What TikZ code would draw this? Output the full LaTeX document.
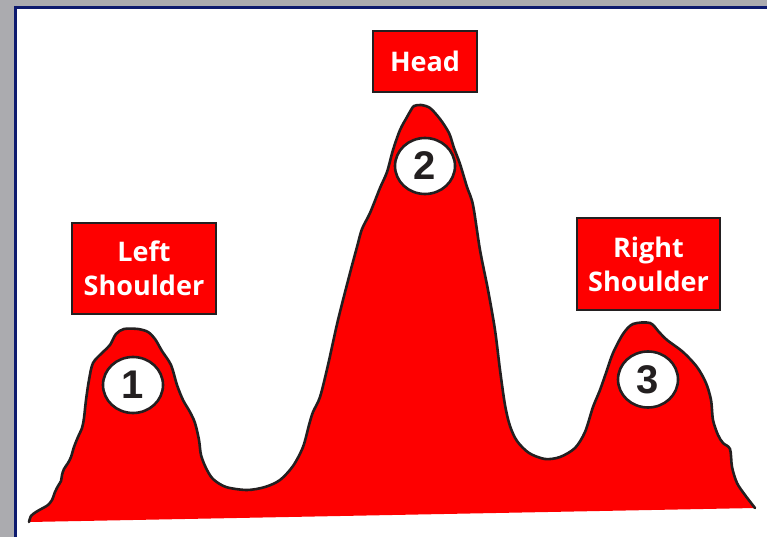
\documentclass[tikz,border=0pt]{standalone}
\usepackage{fontspec}
\usepackage{xcolor}
\usepackage{tikz}
\usetikzlibrary{shapes.geometric,positioning}
\newfontfamily\labelfont{Open Sans}
\newfontfamily\numfont{Liberation Sans}
\definecolor{slidegray}{HTML}{ABABAF}
\definecolor{slidenavy}{HTML}{0D1A6E}
\definecolor{inkline}{HTML}{231F20}
\definecolor{peakred}{HTML}{FE0000}

\begin{document}
\begin{tikzpicture}[
    x=1pt, y=-1pt,
    tag/.style={rectangle, draw=inkline, line width=2.2pt, fill=peakred, text=white, align=center, inner sep=0pt,
        font=\labelfont\bfseries\fontsize{27}{34}\selectfont},
    badge/.style={ellipse, draw=inkline, line width=2.6pt, fill=white, text=inkline, inner sep=0pt,
        minimum width=60pt, minimum height=56pt, font=\numfont\bfseries\fontsize{40}{40}\selectfont},
    ridge/.style={fill=peakred, draw=inkline, line width=2.6pt, line join=round, line cap=round}
]
\useasboundingbox (0,0) rectangle (767,537);

% Slide frame
\fill[slidegray] (0,0) rectangle (767,537);
\fill[white] (17,9) rectangle (767,537);
\draw[slidenavy, line width=3.2pt] (14,7.6) -- (767,7.6);
\draw[slidenavy, line width=3.2pt] (15.6,6) -- (15.6,537);

% Mountain (fill closes the bottom edge, stroke does not)
\draw[ridge] plot[smooth, tension=0.5] coordinates {
    (29,522) (31,516) (36,512) (43,508) (48,505) (52,500) (55,492) (58,486) (61,481) (62,475)
    (64,469) (68,463) (71,457) (74,447) (78,437) (82,428) (84,418) (86,400) (89,380) (93,363)
    (103,352) (110,345) (116,334) (124,329) (138,329) (148,332) (155,339) (162,351) (171,365)
    (177,385) (183,400) (190,412) (195,423) (199,440) (201,455) (206,468) (213,479) (226,487)
    (247,490) (265,487) (280,480) (293,466) (303,447) (309,425) (313,412) (320,397) (328,365)
    (338,320) (350,273) (357,247) (362,229) (370,213) (380,188) (387,172) (393,150) (400,130)
    (407,117) (411,110) (414,106) (421,105) (430,108) (440,119) (449,133) (454,148) (460,164)
    (467,187) (473,205) (480,250) (488,290) (495,330) (500,370) (505,405) (510,426) (517,441)
    (529,453) (545,459) (560,457) (575,448) (585,432) (593,407) (600,390) (607,370) (613,353)
    (623,334) (633,324) (650,323) (659,332) (667,340) (683,352) (697,367) (706,383) (711,400)
    (713,420) (718,435) (723,443) (730,449) (732,467) (737,483) (745,495) (755,508)
};

% Nodes
\node[tag, minimum width=144pt, minimum height=91pt] (leftshoulder) at (144,268.5) {Left\\Shoulder};
\node[tag, minimum width=104pt, minimum height=61pt] (head) at (425,61.5) {Head};
\node[tag, minimum width=143pt, minimum height=92pt] (rightshoulder) at (648.5,264) {Right\\Shoulder};

\node[badge] (one) at (133,385) {1};
\node[badge] (two) at (425,166) {2};
\node[badge] (three) at (648,379.5) {3};

\end{tikzpicture}
\end{document}
